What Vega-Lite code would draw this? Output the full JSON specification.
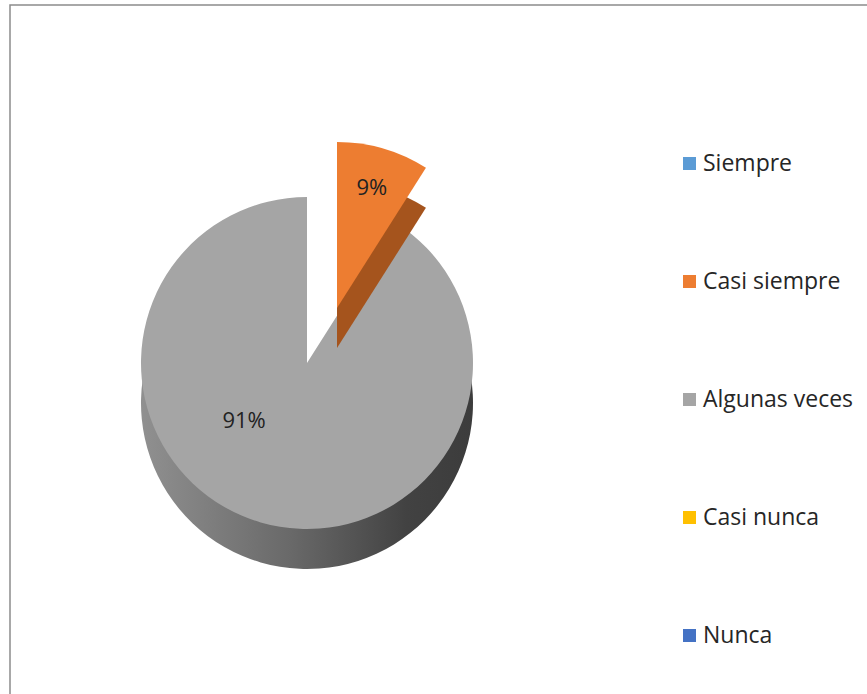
{
  "$schema": "https://vega.github.io/schema/vega-lite/v6.json",
  "width": 857,
  "height": 689,
  "autosize": {"type": "none"},
  "padding": {"left": 10, "top": 5, "right": 0, "bottom": 0},
  "background": "white",
  "config": {
    "view": {"stroke": null},
    "font": "Open Sans"
  },
  "layer": [
    {
      "data": {"values": [{"marco": "borde"}]},
      "mark": {"type": "rect", "fill": null, "stroke": "#8c8c8c", "strokeWidth": 1.5},
      "encoding": {
        "x": {"value": 0},
        "x2": {"value": {"expr": "width + 10"}},
        "y": {"value": 0},
        "y2": {"value": {"expr": "height + 10"}}
      }
    },
    {
      "data": {
        "values": [
          {"categoria": "Siempre", "porcentaje": 0, "orden": 1},
          {"categoria": "Casi siempre", "porcentaje": 0.09, "orden": 2},
          {"categoria": "Algunas veces", "porcentaje": 0.91, "orden": 3},
          {"categoria": "Casi nunca", "porcentaje": 0, "orden": 4},
          {"categoria": "Nunca", "porcentaje": 0, "orden": 5}
        ]
      },
      "encoding": {
        "theta": {"field": "porcentaje", "type": "quantitative", "stack": true},
        "order": {"field": "orden", "type": "quantitative"},
        "detail": {"field": "categoria", "type": "nominal"}
      },
      "layer": [
        {
          "mark": {
            "type": "arc", "x": 297, "y": 358, "yOffset": 40, "outerRadius": 166,
            "color": {
              "gradient": "linear", "x1": 0, "y1": 0, "x2": 1, "y2": 0,
              "stops": [
                {"offset": 0, "color": "#909090"},
                {"offset": 0.45, "color": "#696969"},
                {"offset": 0.8, "color": "#424242"},
                {"offset": 1, "color": "#3c3c3c"}
              ]
            }
          },
          "encoding": {
            "opacity": {"condition": {"test": "datum.categoria === 'Algunas veces'", "value": 1}, "value": 0}
          }
        },
        {
          "mark": {"type": "arc", "x": 297, "y": 358, "outerRadius": 166},
          "encoding": {
            "color": {
              "field": "categoria", "type": "nominal",
              "scale": {
                "domain": ["Siempre", "Casi siempre", "Algunas veces", "Casi nunca", "Nunca"],
                "range": ["#5b9bd5", "#ed7d31", "#a5a5a5", "#ffc000", "#4472c4"]
              },
              "legend": {
                "title": null, "orient": "none", "legendX": 668, "legendY": 147,
                "symbolType": "square", "symbolSize": 170, "symbolStrokeWidth": 0,
                "labelFontSize": 23, "labelFont": "Open Sans", "labelColor": "#262626",
                "labelOffset": 2, "rowPadding": 94
              }
            },
            "opacity": {"condition": {"test": "datum.categoria === 'Casi siempre'", "value": 0}, "value": 1}
          }
        },
        {
          "mark": {"type": "arc", "x": 297, "y": 358, "xOffset": 30, "yOffset": -15, "outerRadius": 166, "color": "#a5541d"},
          "encoding": {
            "opacity": {"condition": {"test": "datum.categoria === 'Casi siempre'", "value": 1}, "value": 0}
          }
        },
        {
          "mark": {"type": "arc", "x": 297, "y": 358, "xOffset": 30, "yOffset": -55, "outerRadius": 166, "color": "#ed7d31"},
          "encoding": {
            "opacity": {"condition": {"test": "datum.categoria === 'Casi siempre'", "value": 1}, "value": 0}
          }
        },
        {
          "mark": {"type": "text", "x": 297, "y": 358, "xOffset": -35, "yOffset": -38, "radius": 100, "fontSize": 22, "color": "#222222"},
          "encoding": {
            "text": {"field": "porcentaje", "type": "quantitative", "format": ".0%"},
            "opacity": {"condition": {"test": "datum.categoria === 'Algunas veces'", "value": 1}, "value": 0}
          }
        },
        {
          "mark": {"type": "text", "x": 297, "y": 358, "xOffset": 30, "yOffset": -55, "radius": 125, "fontSize": 22, "color": "#222222"},
          "encoding": {
            "text": {"field": "porcentaje", "type": "quantitative", "format": ".0%"},
            "opacity": {"condition": {"test": "datum.categoria === 'Casi siempre'", "value": 1}, "value": 0}
          }
        }
      ]
    }
  ]
}
